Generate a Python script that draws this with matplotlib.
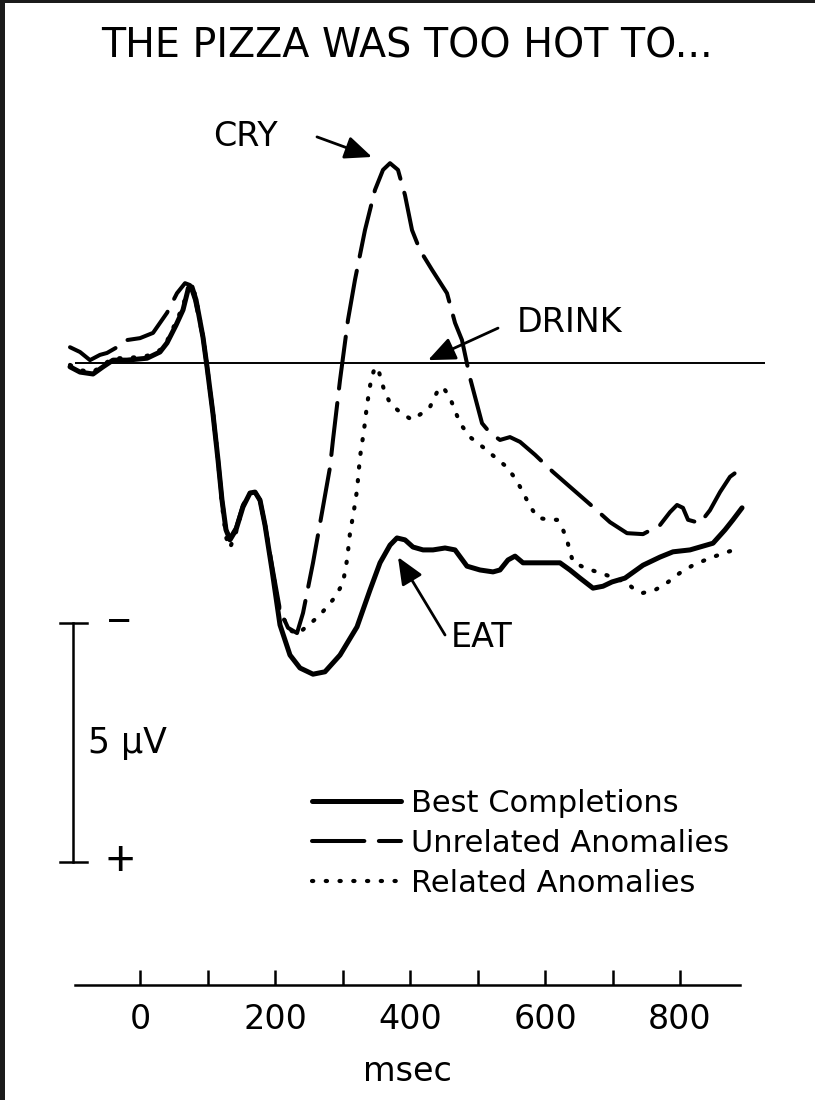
import matplotlib
matplotlib.use("Agg")
import matplotlib.pyplot as plt
from matplotlib import font_manager
from matplotlib.patches import Rectangle

# ---------------------------------------------------------------- data
# Time in ms, amplitude in microvolts (negative plotted upward).
best_t = [-103.7, -88.9, -69.6, -54.8, -40.0, -19.3, 10.4, 29.6, 40.0, 53.3,
          63.7, 71.1, 77.0, 83.0, 93.3, 99.3, 108.0, 115.6, 121.5, 127.4,
          133.3, 142.2, 152.6, 163.0, 170.4, 177.8, 185.2, 195.6, 207.4, 222.2,
          237.0, 256.3, 274.0, 296.3, 321.5, 340.7, 355.6, 370.4, 380.7, 392.6,
          404.4, 419.3, 434.1, 451.9, 466.7, 484.4, 503.7, 523.0, 533.3, 545.2,
          555.6, 567.4, 592.6, 622.2, 637.0, 651.9, 671.1, 685.9, 699.3, 718.5,
          745.2, 770.4, 789.6, 814.8, 848.9, 866.7, 878.5, 891.9]
best_v = [0.08, 0.19, 0.23, 0.08, -0.06, -0.06, -0.10, -0.23, -0.42, -0.79,
          -1.11, -1.53, -1.59, -1.32, -0.54, 0.08, 1.05, 2.03, 2.87, 3.49,
          3.70, 3.49, 3.01, 2.72, 2.70, 2.87, 3.39, 4.33, 5.48, 6.11,
          6.38, 6.51, 6.46, 6.11, 5.52, 4.75, 4.18, 3.81, 3.66, 3.70,
          3.85, 3.91, 3.91, 3.87, 3.91, 4.25, 4.33, 4.37, 4.33, 4.12,
          4.04, 4.18, 4.18, 4.18, 4.33, 4.50, 4.71, 4.67, 4.58, 4.50,
          4.23, 4.06, 3.95, 3.91, 3.77, 3.49, 3.28, 3.03]

unrel_t = [-103.7, -88.9, -74.1, -59.3, -48.9, -34.1, -19.3, 0.0, 19.3, 40.0,
           54.8, 66.7, 74.1, 81.5, 93.3, 99.3, 108.1, 115.6, 121.5, 127.4,
           133.3, 142.2, 152.6, 163.0, 170.4, 177.8, 185.2, 195.6, 207.4, 219.3,
           232.6, 241.5, 256.3, 271.1, 281.5, 285.9, 296.3, 308.1, 318.5, 333.3,
           348.1, 360.0, 370.4, 382.2, 392.6, 403.0, 414.8, 432.6, 454.8, 466.7,
           477.0, 488.9, 506.7, 518.5, 533.3, 548.1, 563.0, 585.2, 611.9, 637.0,
           671.1, 696.3, 721.5, 745.2, 770.4, 785.2, 795.6, 804.4, 811.9, 829.6,
           844.4, 859.3, 874.1, 893.3]
unrel_v = [-0.33, -0.23, -0.06, -0.17, -0.21, -0.33, -0.48, -0.52, -0.63, -1.05,
           -1.46, -1.67, -1.63, -1.32, -0.54, 0.08, 1.05, 2.03, 2.87, 3.49,
           3.66, 3.45, 2.97, 2.72, 2.70, 2.87, 3.39, 4.23, 5.17, 5.54,
           5.65, 5.23, 4.18, 3.01, 2.18, 1.61, 0.36, -0.90, -1.74, -2.78,
           -3.62, -4.04, -4.18, -4.04, -3.51, -2.78, -2.36, -1.95, -1.46, -0.84,
           -0.48, 0.31, 1.26, 1.46, 1.61, 1.55, 1.65, 1.92, 2.28, 2.59,
           3.01, 3.33, 3.56, 3.58, 3.39, 3.12, 2.97, 3.03, 3.28, 3.35,
           3.08, 2.70, 2.38, 2.18]

rel_t = [-103.7, -88.9, -69.6, -54.8, -40.0, -19.3, 10.4, 29.6, 40.0, 53.3,
         63.7, 71.1, 77.0, 83.0, 93.3, 99.3, 108.1, 115.6, 121.5, 127.4,
         133.3, 142.2, 152.6, 163.0, 170.4, 177.8, 185.2, 195.6, 207.4, 222.2,
         234.1, 244.4, 254.8, 266.7, 277.0, 288.9, 300.7, 306.7, 311.1, 317.0,
         321.5, 325.9, 331.9, 336.3, 342.2, 348.1, 354.1, 361.5, 370.4, 385.2,
         403.0, 417.8, 429.6, 440.0, 448.9, 459.3, 474.1, 488.9, 508.1, 525.9,
         543.7, 555.6, 565.9, 577.8, 589.6, 607.4, 617.8, 626.7, 632.6, 637.0,
         641.5, 659.3, 681.5, 703.7, 721.5, 733.3, 745.2, 762.9, 780.7, 800.0,
         819.3, 844.4, 866.7, 888.9]
rel_v = [0.04, 0.15, 0.19, 0.04, -0.10, -0.10, -0.15, -0.27, -0.46, -0.86,
         -1.19, -1.57, -1.63, -1.36, -0.54, 0.08, 1.05, 2.03, 2.97, 3.64,
         3.87, 3.54, 3.01, 2.72, 2.70, 2.87, 3.39, 4.29, 5.21, 5.59,
         5.67, 5.54, 5.42, 5.27, 5.10, 4.90, 4.60, 4.12, 3.56, 3.08,
         2.66, 1.97, 1.40, 0.88, 0.36, 0.08, 0.19, 0.56, 0.84, 1.03,
         1.19, 1.05, 0.92, 0.61, 0.50, 0.73, 1.26, 1.55, 1.76, 1.97,
         2.18, 2.41, 2.66, 3.00, 3.24, 3.28, 3.28, 3.49, 3.70, 3.95,
         4.16, 4.29, 4.39, 4.50, 4.60, 4.75, 4.81, 4.75, 4.60, 4.39,
         4.23, 4.08, 3.97, 3.87]

series_labels = ["Best Completions", "Unrelated Anomalies", "Related Anomalies"]
title_text = "THE PIZZA WAS TOO HOT TO..."
tick_values = [0, 200, 400, 600, 800]
minor_tick_values = [100, 300, 500, 700]
calibration_uv = 5

# ---------------------------------------------------------------- fonts
available = {f.name for f in font_manager.fontManager.ttflist}
title_font = "Liberation Sans Narrow" if "Liberation Sans Narrow" in available else "DejaVu Sans"
body_font = "DejaVu Sans"
plt.rcParams["font.family"] = [body_font]

# ---------------------------------------------------------------- figure
W, H = 815, 1100
fig = plt.figure(figsize=(W / 100, H / 100), dpi=100)
fig.patch.set_facecolor("white")

# dark page edge along the left and top
fig.patches.append(Rectangle((0, 0), 5 / W, 1, transform=fig.transFigure,
                             facecolor="#1b1b1b", edgecolor="none", zorder=10))
fig.patches.append(Rectangle((0, 1 - 3 / H), 1, 3 / H, transform=fig.transFigure,
                             facecolor="#1b1b1b", edgecolor="none", zorder=10))

ax = fig.add_axes([0, 0, 1, 1])
ax.set_facecolor("none")
ax.set_xlim(-207.41, 1000.0)
ax.set_ylim(15.418, -7.594)          # negative voltage up

ink = "black"

# zero line
ax.plot([-96, 926], [0, 0], color=ink, lw=1.4, solid_capstyle="butt", zorder=1)

l_best, = ax.plot(best_t, best_v, color=ink, lw=3.6, solid_joinstyle="round",
                  solid_capstyle="round", label=series_labels[0], zorder=3)
l_unrel, = ax.plot(unrel_t, unrel_v, color=ink, lw=2.9, linestyle=(0, (13, 3.6)),
                   dash_capstyle="round", label=series_labels[1], zorder=3)
l_rel, = ax.plot(rel_t, rel_v, color=ink, lw=3.0, linestyle=(0, (0.3, 3.0)),
                 dash_capstyle="round", label=series_labels[2], zorder=3)

# title
ax.text(395.6, -6.63, title_text, ha="center", va="center",
        fontsize=33 if title_font != "DejaVu Sans" else 28.5,
        family=title_font, color=ink)

# word labels with arrows
arrow_kw = dict(arrowstyle="-|>,head_length=0.75,head_width=0.32", color=ink,
                lw=2.0, mutation_scale=22, shrinkA=0, shrinkB=0)
ax.text(108.1, -4.73, "CRY", ha="left", va="center", fontsize=24, color=ink)
ax.annotate("", xy=(343.7, -4.31), xytext=(262.2, -4.73), arrowprops=arrow_kw)

ax.text(558.5, -0.84, "DRINK", ha="left", va="center", fontsize=24, color=ink)
ax.annotate("", xy=(426.7, -0.06), xytext=(530.4, -0.73), arrowprops=arrow_kw)

ax.text(460.0, 5.75, "EAT", ha="left", va="center", fontsize=24, color=ink)
ax.annotate("", xy=(382.2, 4.06), xytext=(451.9, 5.69), arrowprops=arrow_kw)

# voltage calibration bar
cal_x = -99.3
cal_top, cal_bot = 5.44, 5.44 + calibration_uv
ax.plot([cal_x, cal_x], [cal_top, cal_bot], color=ink, lw=1.8, zorder=2)
ax.plot([-118.5, -78.5], [cal_top, cal_top], color=ink, lw=1.8)
ax.plot([-118.5, -78.5], [cal_bot, cal_bot], color=ink, lw=1.8)
ax.text(-31.0, cal_top, "\u2212", ha="center", va="center", fontsize=30,
        family="Liberation Sans", color=ink)
ax.text(-29.6, cal_bot, "+", ha="center", va="center", fontsize=36,
        family="Liberation Sans", color=ink)
ax.text(-77.0, 7.95, f"{calibration_uv} \u00b5V", ha="left", va="center",
        fontsize=25, color=ink)

# legend
leg = ax.legend(handles=[l_best, l_unrel, l_rel], loc="upper left",
                bbox_to_anchor=(312 / W, 1 - 789 / H), bbox_transform=fig.transFigure,
                frameon=False, fontsize=22, handlelength=2.9, handletextpad=0.35,
                labelspacing=0.36, borderpad=0, borderaxespad=0)

# time axis
for side in ("left", "right", "top"):
    ax.spines[side].set_visible(False)
ax.spines["bottom"].set_position(("data", 13.01))
ax.spines["bottom"].set_bounds(-96, 889)
ax.spines["bottom"].set_linewidth(1.8)
ax.set_yticks([])
ax.set_xticks(tick_values)
ax.set_xticklabels([str(v) for v in tick_values])
ax.set_xticks(minor_tick_values, minor=True)
ax.tick_params(axis="x", which="both", direction="in", length=11, width=1.8,
               labelsize=24, pad=13, colors=ink)
ax.set_xlabel("msec", fontsize=24, labelpad=14, color=ink)

fig.savefig("out.png", dpi=100, facecolor="white")
